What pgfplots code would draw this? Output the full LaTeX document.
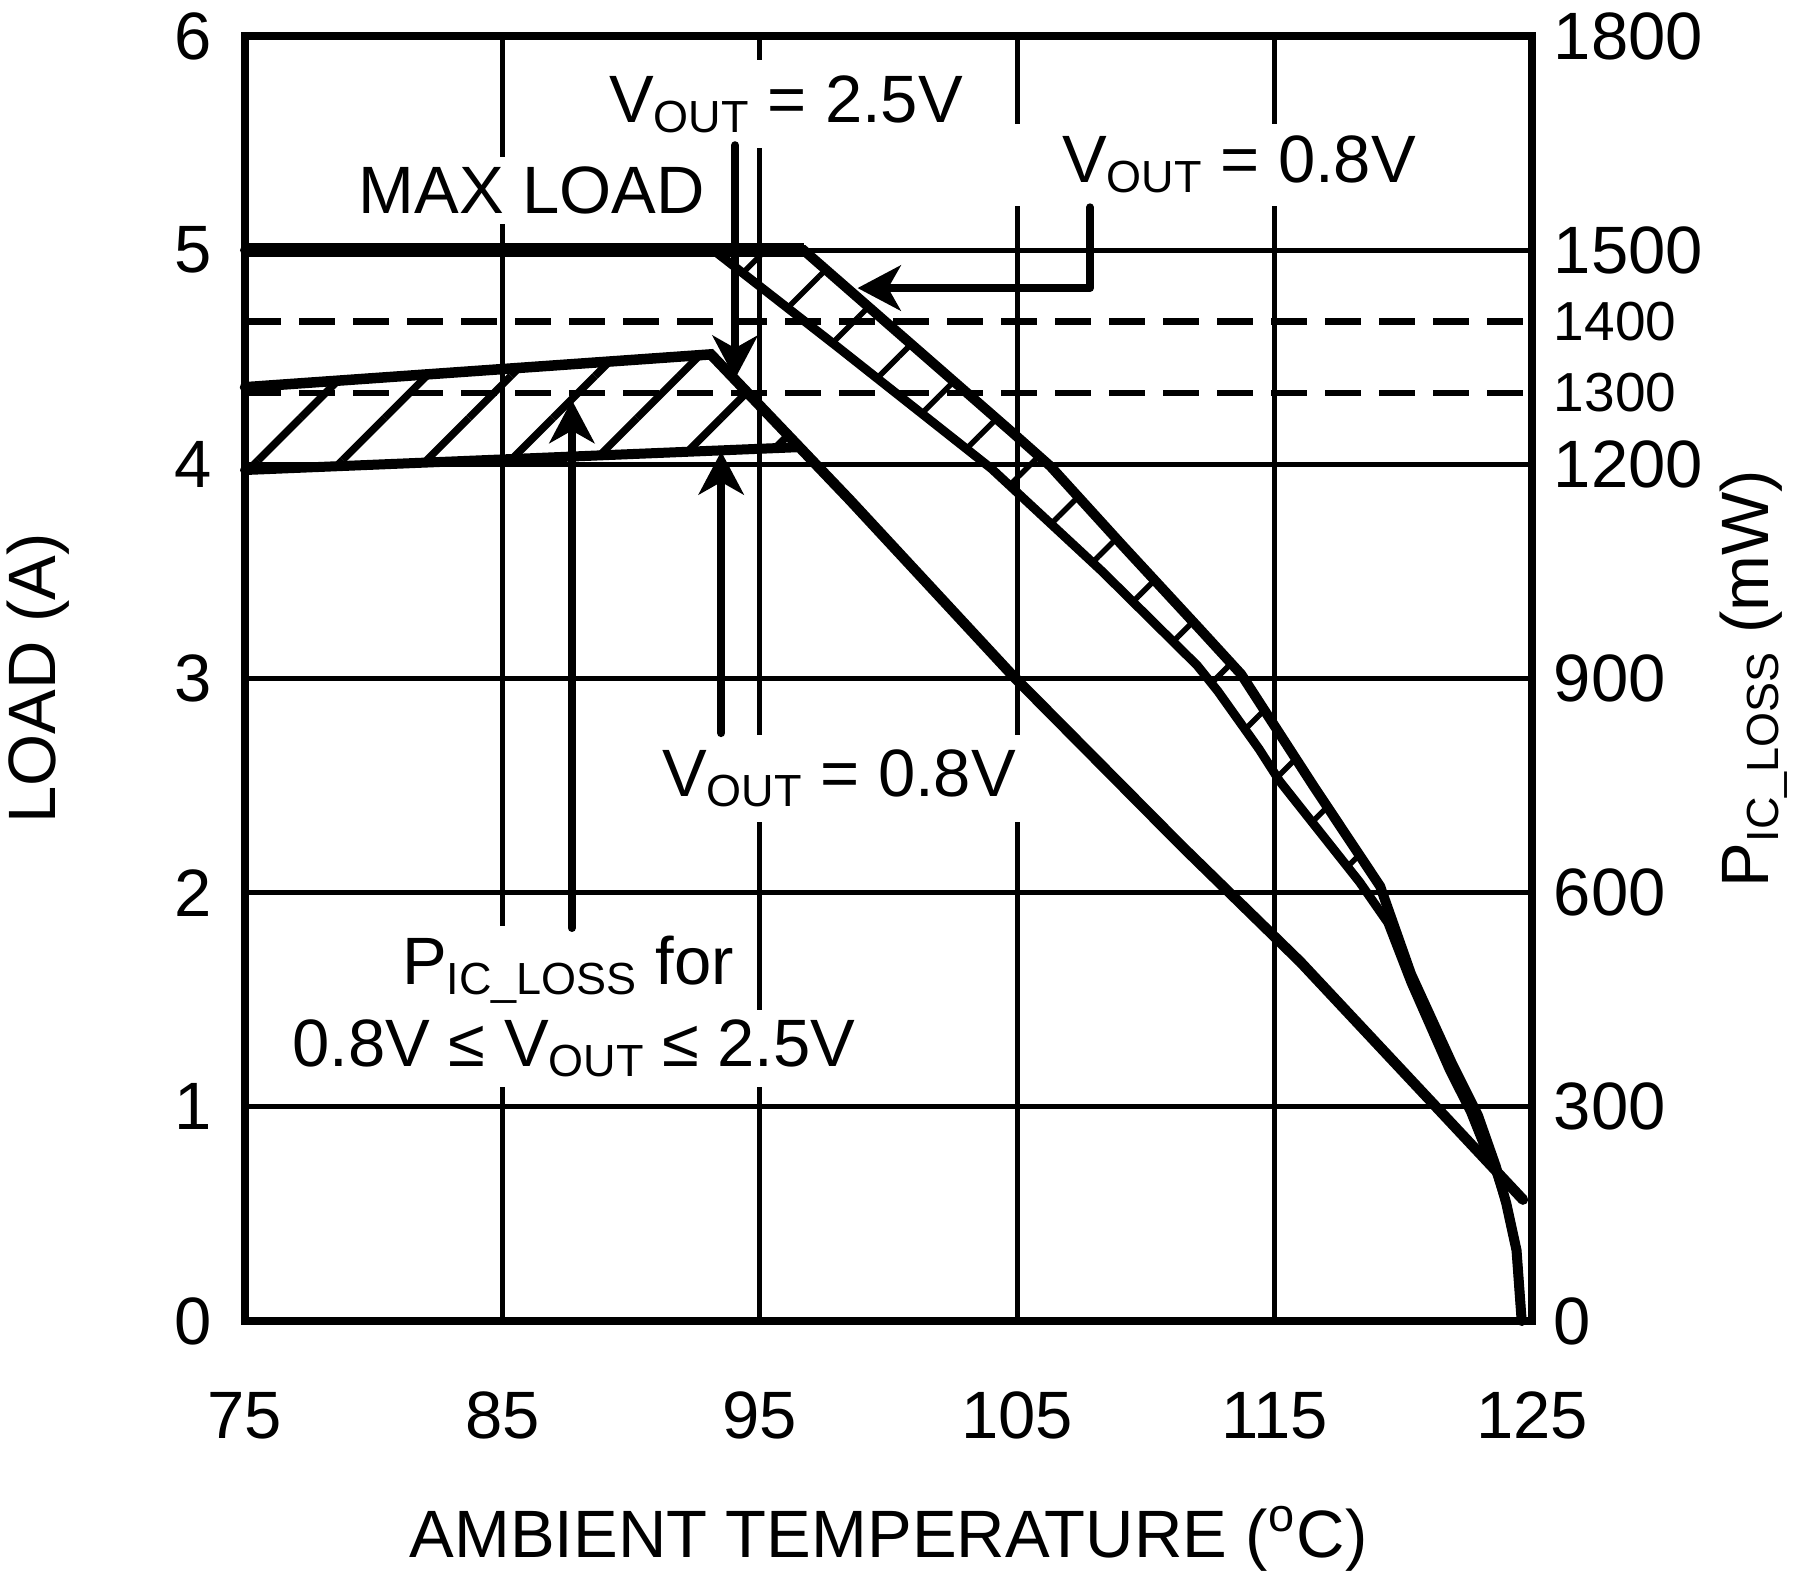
\documentclass[border=0pt]{standalone}
\usepackage{fontspec}
\setmainfont{Liberation Sans}
\usepackage{pgfplots}
\usepackage{pgfplotstable}
\pgfplotsset{compat=1.18}
\usetikzlibrary{arrows.meta,patterns.meta}

\newcommand\bigf{\fontsize{13.4}{16}\selectfont}
\newcommand\smallf{\fontsize{11}{13}\selectfont}
\newcommand\sub[1]{\raisebox{-2pt}{\fontsize{9}{9}\selectfont #1}}

% max load, VOUT = 0.8V (outer curve)
\pgfplotstableread{
x y
75 5.00
96.7 5.00
104.8 4.15
106.3 3.99
109.1 3.62
112.1 3.23
113.7 3.02
116.5 2.50
119.1 2.03
120.3 1.62
121.9 1.20
122.9 0.96
123.6 0.72
124.0 0.55
124.4 0.33
124.6 0.00
}\maxlowv

% max load, VOUT = 2.5V (inner curve)
\pgfplotstableread{
x y
93.2 5.00
98.0 4.55
104.0 3.98
108.3 3.50
112.0 3.06
112.8 2.94
114.4 2.67
115.2 2.52
118.3 2.05
119.4 1.86
120.3 1.58
121.8 1.17
122.6 0.98
123.2 0.80
123.6 0.70
124.0 0.55
124.4 0.33
124.6 0.00
}\maxhighv

% area between the two max load curves
\pgfplotstableread{
x y
93.2 5.00
96.7 5.00
104.8 4.15
106.3 3.99
109.1 3.62
112.1 3.23
113.7 3.02
116.5 2.50
119.1 2.03
118.3 2.05
115.2 2.52
114.4 2.67
112.8 2.94
112.0 3.06
108.3 3.50
104.0 3.98
98.0 4.55
}\maxband

% IC loss in mW
\pgfplotstableread{
x y
75 1308
93.1 1354
98.5 1150
104.8 905
111.4 665
116.0 503
124.65 170
}\losshigh

\pgfplotstableread{
x y
75 1192
96.5 1224
}\losslow

\pgfplotstableread{
x y
75 1308
93.1 1354
96.5 1224
75 1192
}\lossband

\begin{document}
\begin{tikzpicture}[font=\bigf]
\path[use as bounding box] (-49pt,-50.8pt) rectangle (311.6pt,264.2pt);

% right axis: P_IC_LOSS
\begin{axis}[
    at={(0,0)}, anchor=south west,
    scale only axis, width=257.4pt, height=257pt,
    xmin=75, xmax=125, ymin=0, ymax=1800,
    axis x line=none, axis y line*=right,
    axis line style={line width=1.5pt},
    ytick={0,300,600,900,1200,1500,1800},
    extra y ticks={1300,1400},
    extra y tick style={grid=major,
        major grid style={black, line width=1.3pt, dash pattern=on 7.2pt off 3.6pt},
        yticklabel style={font=\smallf}},
    major tick length=0pt,
    yticklabel style={font=\bigf, inner sep=0pt, xshift=4.2pt},
    /pgf/number format/assume math mode=true,
    /pgf/number format/1000 sep={},
    ylabel={P\sub{IC\_LOSS} (mW)},
    every axis y label/.style={at={(axis description cs:1.1725,0.5)}, anchor=center, rotate=90, font=\bigf},
    clip=false,
]
\addplot[draw=none, pattern={Lines[angle=45, distance=11.9pt, line width=1.5pt, xshift=-3pt]}] table {\lossband};
\addplot[line width=2.1pt, line cap=round] table {\losshigh};
\addplot[line width=2pt, line cap=round] table {\losslow};
\end{axis}

% left axis: LOAD
\begin{axis}[
    at={(0,0)}, anchor=south west,
    scale only axis, width=257.4pt, height=257pt,
    xmin=75, xmax=125, ymin=0, ymax=6,
    xtick={75,85,...,125}, ytick={0,1,...,6},
    grid=major, major grid style={black, line width=1pt},
    axis line style={line width=1.5pt},
    major tick length=0pt,
    xticklabel style={font=\bigf, inner sep=0pt, yshift=-14pt},
    yticklabel style={font=\bigf, inner sep=0pt, xshift=-6.4pt},
    /pgf/number format/assume math mode=true,
    xlabel={AMBIENT TEMPERATURE (\textsuperscript{o}C)},
    ylabel={LOAD (A)},
    every axis x label/.style={at={(axis description cs:0.5,-0.1844)}, anchor=base, font=\bigf},
    every axis y label/.style={at={(axis description cs:-0.161,0.5)}, anchor=center, rotate=90, font=\bigf},
    clip=false,
]
\addplot[draw=none, pattern={Lines[angle=45, distance=11.3pt, line width=1.1pt]}] table {\maxband};
\addplot[line width=2pt, line cap=round] table {\maxlowv};
\addplot[line width=1.8pt, line cap=round] table {\maxhighv};
\addplot[line width=2.8pt] coordinates {(75,5) (96.7,5)};

\node[anchor=base, fill=white, inner xsep=2pt, inner ysep=3pt] at (axis cs:96.02,5.598) {V\sub{OUT} = 2.5V};
\node[anchor=base, fill=white, inner sep=2pt] at (axis cs:86.15,5.17) {MAX LOAD};
\node[anchor=base, fill=white, inner xsep=10pt, inner ysep=2.5pt] at (axis cs:113.62,5.314) {V\sub{OUT} = 0.8V};
\node[anchor=base, fill=white, inner xsep=2pt, inner ysep=3pt] at (axis cs:98.08,2.447) {V\sub{OUT} = 0.8V};
\node[anchor=base, fill=white, inner sep=2pt] at (axis cs:87.55,1.569) {P\sub{IC\_LOSS} for};
\node[anchor=base, fill=white, inner sep=2pt] at (axis cs:87.78,1.186) {0.8V ≤ V\sub{OUT} ≤ 2.5V};

\begin{scope}[line width=1.6pt, line cap=round, -{Stealth[length=8.6pt, width=9pt, inset=2.5pt]}]
\draw (axis cs:94.04,5.49) -- (axis cs:94.04,4.40);
\draw (axis cs:93.5,2.745) -- (axis cs:93.5,4.06);
\draw (axis cs:87.7,1.835) -- (axis cs:87.7,4.30);
\draw[line join=round] (axis cs:107.83,5.20) -- (axis cs:107.83,4.823) -- (axis cs:98.8,4.823);
\end{scope}
\end{axis}
\end{tikzpicture}
\end{document}
